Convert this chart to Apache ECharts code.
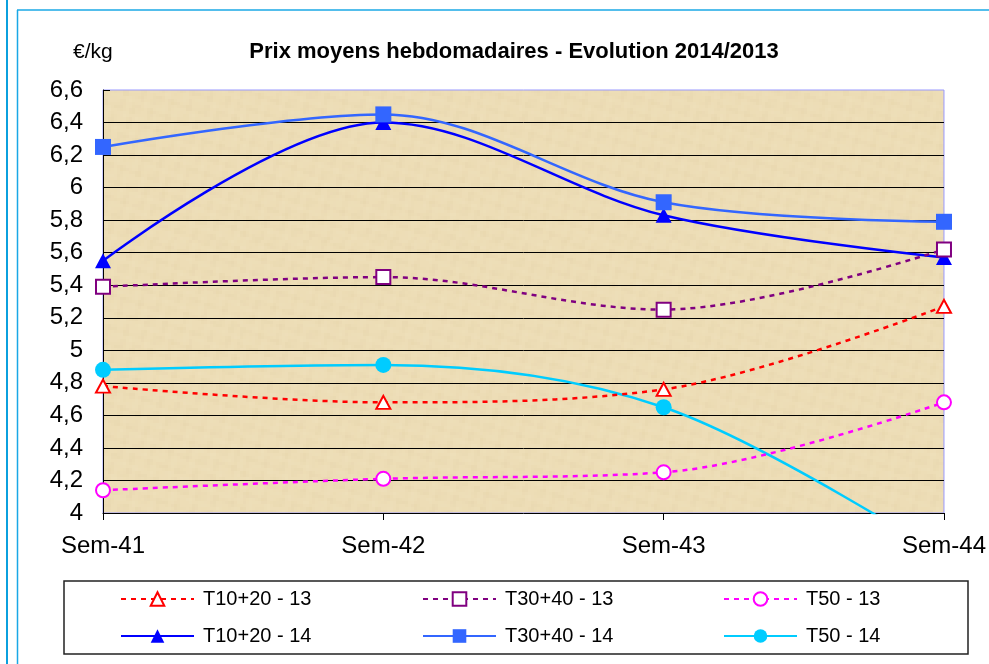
<!DOCTYPE html>
<html>
<head>
<meta charset="utf-8">
<script src="https://cdn.jsdelivr.net/npm/echarts@6/dist/echarts.min.js"></script>
<style>
html,body{margin:0;padding:0;background:#fff;}
#chart{width:989px;height:664px;}
</style>
</head>
<body>
<div id="chart"></div>
<script>
var categories = ['Sem-41', 'Sem-42', 'Sem-43', 'Sem-44'];
var t1020_13 = [4.78, 4.68, 4.76, 5.27];
var t3040_13 = [5.39, 5.45, 5.25, 5.62];
var t50_13   = [4.14, 4.21, 4.25, 4.68];
var t1020_14 = [5.55, 6.40, 5.83, 5.57];
var t3040_14 = [6.25, 6.45, 5.91, 5.79];
var t50_14   = [4.88, 4.91, 4.65, 3.73];
var seriesNames = ['T10+20 - 13', 'T30+40 - 13', 'T50 - 13', 'T10+20 - 14', 'T30+40 - 14', 'T50 - 14'];
var yMin = 4, yMax = 6.6, yStep = 0.2;

var FONT = '"Liberation Sans", Arial, sans-serif';

// parchment-like texture for the plot background (purely decorative)
function makeTexture() {
  var c = document.createElement('canvas');
  c.width = 240; c.height = 240;
  var g = c.getContext('2d');
  g.fillStyle = '#EDDDB6';
  g.fillRect(0, 0, 240, 240);
  for (var y = 0; y < 240; y += 3) {
    for (var x = 0; x < 240; x += 3) {
      var n = Math.sin(x * 0.13 + y * 0.29) * Math.cos(y * 0.11 - x * 0.23) +
              0.6 * Math.sin(x * 0.47 - y * 0.31) * Math.cos(x * 0.19 + y * 0.43);
      var a = n * 0.05;
      g.fillStyle = a > 0 ? 'rgba(255,250,232,' + a + ')' : 'rgba(190,160,110,' + (-a) + ')';
      g.fillRect(x, y, 3, 3);
    }
  }
  return c;
}

var chart = echarts.init(document.getElementById('chart'), null, {renderer: 'canvas'});

function mkSeries(name, data, color, dash, symbol, filled, size) {
  return {
    name: name,
    type: 'line',
    data: data,
    smooth: 0.34,
    clip: true,
    symbol: symbol,
    symbolSize: size,
    showAllSymbol: true,
    lineStyle: {color: color, width: 2.5, type: dash},
    itemStyle: filled ? {color: color} : {color: '#ffffff', borderColor: color, borderWidth: 2},
    emphasis: {disabled: true}
  };
}

var legendPos = [
  {left: 120, top: 589}, {left: 422, top: 589}, {left: 723, top: 589},
  {left: 120, top: 626}, {left: 422, top: 626}, {left: 723, top: 626}
];
var legends = seriesNames.map(function (n, i) {
  return {
    data: [n], left: legendPos[i].left, top: legendPos[i].top, padding: 0,
    itemWidth: 73, itemHeight: 17, selectedMode: false,
    textStyle: {fontFamily: FONT, fontSize: 20, color: '#000', padding: [0, 0, 0, 4]}
  };
});

var option = {
  animation: false,
  backgroundColor: '#ffffff',
  grid: {left: 103, right: 45, top: 90, bottom: 151, show: true,
         backgroundColor: {image: makeTexture(), repeat: 'repeat'},
         borderColor: '#9999FF', borderWidth: 1},
  legend: legends,
  graphic: [
    {type: 'line', shape: {x1: 7, y1: 0, x2: 7, y2: 664}, style: {stroke: '#0BA0DE', lineWidth: 2}},
    {type: 'line', shape: {x1: 17.5, y1: 10, x2: 17.5, y2: 664}, style: {stroke: '#1AA8E6', lineWidth: 1.5}},
    {type: 'line', shape: {x1: 17, y1: 10, x2: 989, y2: 10}, style: {stroke: '#1AA8E6', lineWidth: 1.5}},
    {type: 'rect', shape: {x: 64, y: 581, width: 904, height: 73}, style: {fill: 'none', stroke: '#222', lineWidth: 1.5}, z: -1},
    {type: 'text', x: 514, y: 52, style: {text: 'Prix moyens hebdomadaires - Evolution 2014/2013', font: 'bold 22px ' + FONT, fill: '#000', textAlign: 'center', textVerticalAlign: 'middle'}},
    {type: 'text', x: 73, y: 52, style: {text: '€/kg', font: '21px ' + FONT, fill: '#000', textAlign: 'left', textVerticalAlign: 'middle'}}
  ],
  xAxis: {
    type: 'category', data: categories, boundaryGap: false,
    axisLine: {show: true, lineStyle: {color: '#000', width: 1}},
    axisTick: {show: true, inside: false, length: 7, alignWithLabel: true, lineStyle: {color: '#000'}},
    axisLabel: {fontFamily: FONT, fontSize: 24, color: '#000', margin: 21, showMinLabel: true, showMaxLabel: true},
    splitLine: {show: false}
  },
  yAxis: {
    type: 'value', min: yMin, max: yMax, interval: yStep,
    axisLine: {show: true, lineStyle: {color: '#000', width: 1}},
    axisTick: {show: true, inside: true, length: 7, lineStyle: {color: '#000'}},
    axisLabel: {fontFamily: FONT, fontSize: 24, color: '#000', margin: 20,
      formatter: function (v) { return String(Math.round(v * 10) / 10).replace('.', ','); }},
    splitLine: {show: true, showMaxLine: false, showMinLine: false, lineStyle: {color: '#000', width: 1}}
  },
  series: [
    mkSeries(seriesNames[3], t1020_14, '#0000FF', 'solid', 'triangle', true, [16, 15]),
    mkSeries(seriesNames[4], t3040_14, '#3366FF', 'solid', 'rect', true, 16),
    mkSeries(seriesNames[5], t50_14, '#00CCFF', 'solid', 'circle', true, 16),
    mkSeries(seriesNames[0], t1020_13, '#FF0000', [5, 5], 'triangle', false, [14, 13]),
    mkSeries(seriesNames[1], t3040_13, '#800080', [5, 5], 'rect', false, 14),
    mkSeries(seriesNames[2], t50_13, '#FF00FF', [5, 5], 'circle', false, 14)
  ]
};
chart.setOption(option);
</script>
</body>
</html>
